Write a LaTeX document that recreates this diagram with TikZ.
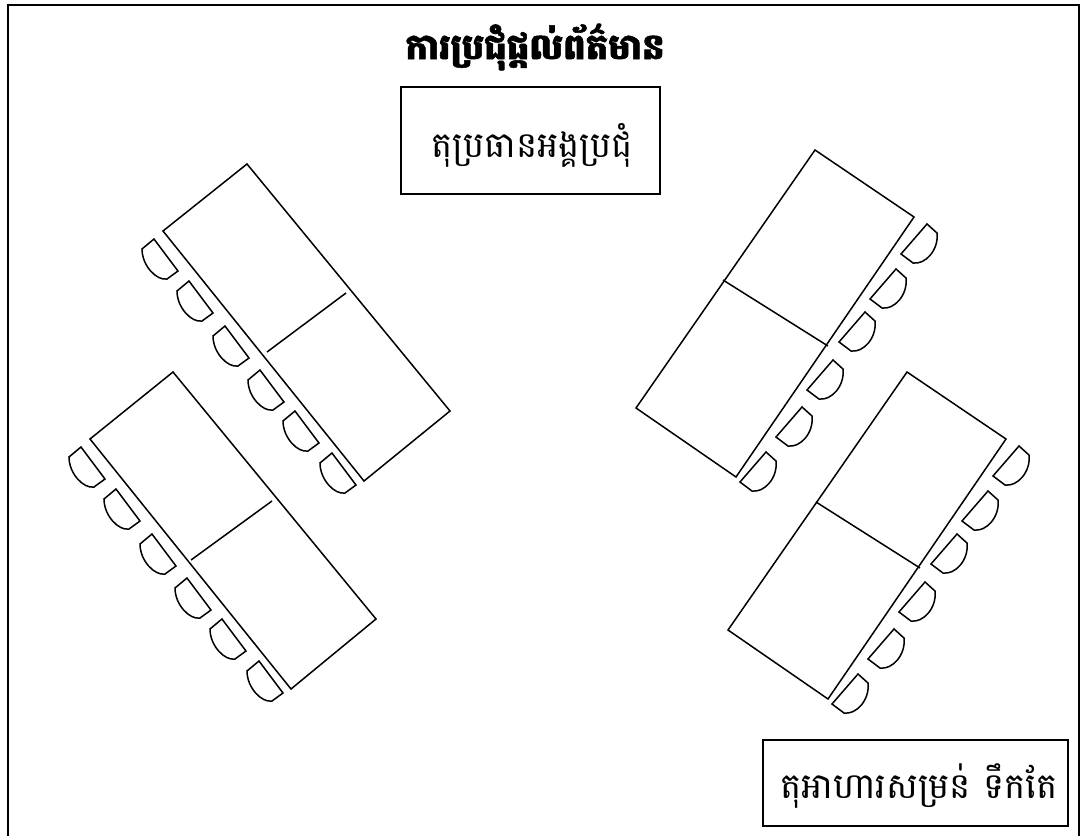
\documentclass[tikz,border=0pt]{standalone}
\usepackage{fontspec}
\usetikzlibrary{positioning}
\newfontfamily\khmerfont[Script=Khmer]{Battambang}
\newfontfamily\khmertitle[Script=Khmer,FakeBold=1.6]{Battambang}
\tikzset{
  boxlabel/.style={draw, line width=1.5pt, inner sep=0pt, align=center},
  boxtext/.style={inner sep=0pt, font=\khmerfont\fontsize{35.5}{40}\selectfont},
  titlelabel/.style={inner sep=0pt, font=\khmertitle\bfseries\fontsize{35.5}{40}\selectfont},
  furniture/.style={line width=1.5pt, line join=miter}
}
\newcommand{\leftchair}[2]{\draw[furniture, shift={(#1,#2)}] (0,0) -- (24,32) -- (13,40) .. controls (3,42) and (-12,27) .. (-12,10) -- cycle;}
\newcommand{\rightchair}[2]{\draw[furniture, shift={(#1,#2)}] (0,0) -- (-26,30) -- (-14,39) .. controls (-2,41) and (12,26) .. (10,9) -- cycle;}
\begin{document}
\begin{tikzpicture}[x=1pt, y=-1pt]
  \useasboundingbox (0,0) rectangle (1084,836);
  \draw[line width=2pt] (8,836) -- (8,5) -- (1079,5) -- (1079,836);
  \node[titlelabel] (title) at (535,47) {ការប្រជុំផ្តល់ព័ត៌មាន};
  \node[boxlabel, minimum width=259pt, minimum height=107pt] (chairtable) at (530.5,140.5) {};
  \node[boxtext] (chairtext) at (532,145) {តុប្រធានអង្គប្រជុំ};
  \node[boxlabel, minimum width=305pt, minimum height=86pt] (foodtable) at (915.5,783) {};
  \node[boxtext] (foodtext) at (919,786) {តុអាហារសម្រន់ ទឹកតែ};
  % left tables
  \draw[furniture] (247,164) -- (163,231) -- (364,481) -- (450,411) -- cycle;
  \draw[furniture] (267,352) -- (346,293);
  \draw[furniture] (173,372) -- (90,439) -- (291,689) -- (376,619) -- cycle;
  \draw[furniture] (191,560) -- (272,501);
  % right tables
  \draw[furniture] (815,150) -- (914,217) -- (736,477) -- (636,408) -- cycle;
  \draw[furniture] (723,280) -- (828,346);
  \draw[furniture] (907,372) -- (1006,439) -- (828,699) -- (728,630) -- cycle;
  \draw[furniture] (816,502) -- (920,568);
  % chairs
  \foreach \cx/\cy in {154/239,189/281,225/326,260/370,295/411,332/453,81/447,116/489,152/534,187/578,222/619,259/661}
    {\leftchair{\cx}{\cy}}
  \foreach \cx/\cy in {927/224,896/269,865/312,833/360,802/407,766/452,1019/446,988/491,957/534,925/582,894/629,858/674}
    {\rightchair{\cx}{\cy}}
\end{tikzpicture}
\end{document}
